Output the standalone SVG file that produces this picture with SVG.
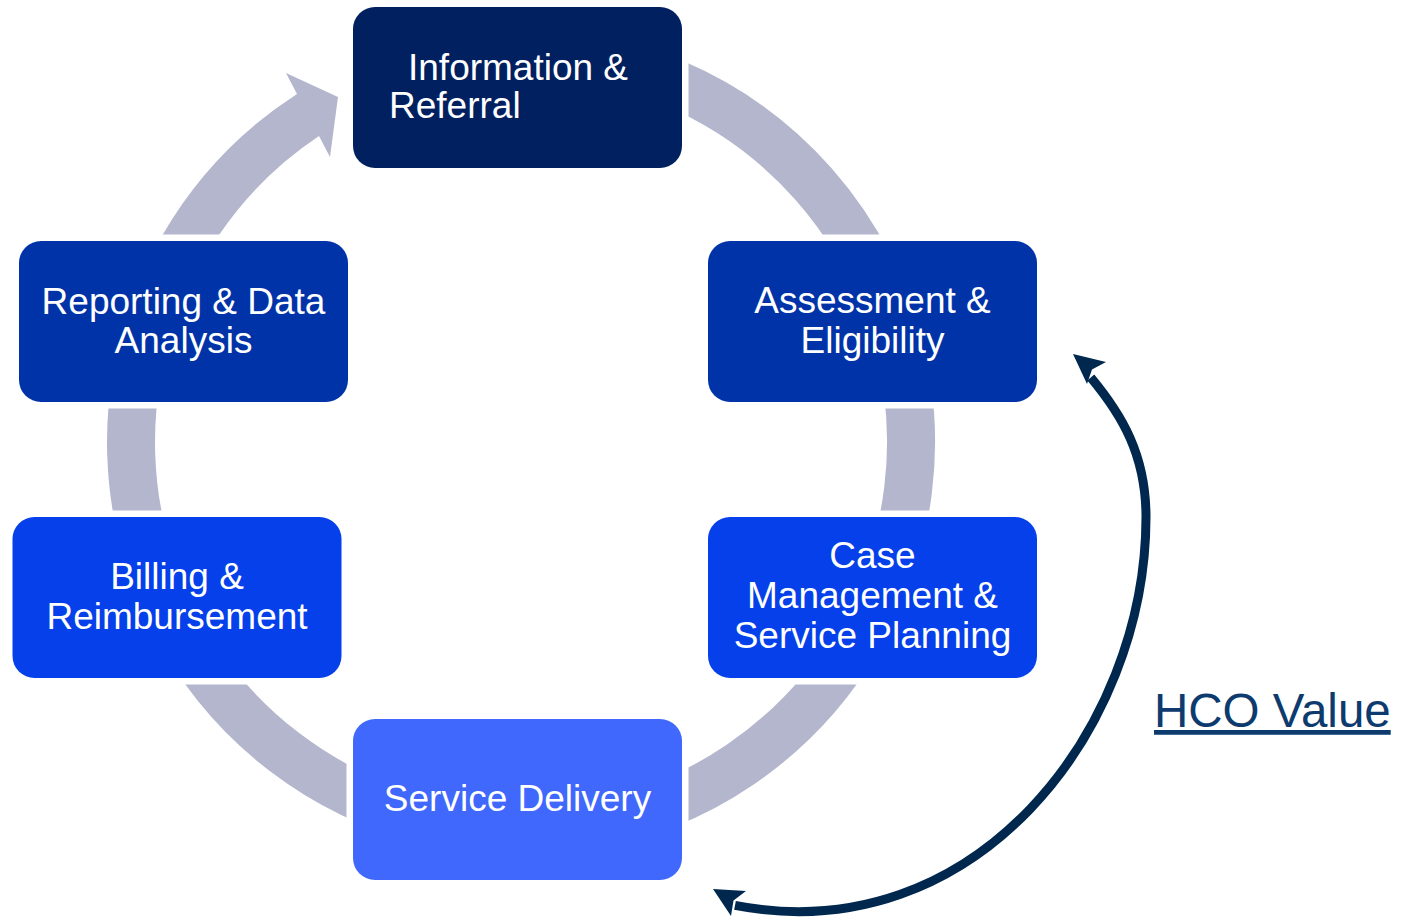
<svg xmlns="http://www.w3.org/2000/svg" width="1404" height="920" viewBox="0 0 1404 920">
  <style>
    .box text { font-family: "Liberation Sans", Arial, sans-serif; font-size: 37px; fill: #ffffff; }
    .c { text-anchor: middle; }
    .ring { fill: none; stroke: #B3B6CC; stroke-width: 48; }
    .ringfill { fill: #B3B6CC; }
    .curve { fill: none; stroke: #00284F; stroke-width: 9; }
    .head { fill: #00284F; }
    .hco { font-family: "Liberation Sans", Arial, sans-serif; font-size: 47.5px; fill: #0D3B6E; text-decoration: underline; }
  </style>
  <defs>
    <mask id="gaps" maskUnits="userSpaceOnUse" x="0" y="0" width="1404" height="920">
      <rect x="0" y="0" width="1404" height="920" fill="#fff"/>
      <rect x="346.5" y="0.5" width="342" height="174" fill="#000"/>
      <rect x="701.5" y="234.5" width="342" height="174" fill="#000"/>
      <rect x="701.5" y="510.5" width="342" height="174" fill="#000"/>
      <rect x="346.5" y="712.5" width="342" height="174" fill="#000"/>
      <rect x="6" y="510.5" width="342" height="174" fill="#000"/>
      <rect x="12.5" y="234.5" width="342" height="174" fill="#000"/>
    </mask>
  </defs>

  <g id="connectors">
    <g mask="url(#gaps)">
      <path class="ring" d="M 521,52 A 390 390 0 1 1 157.8,300"/>
      <path class="ringfill" d="M 162.5,235 A 414 414 0 0 1 297,94 L 286,73 L 338,97 L 330,157 L 319,136 A 366 366 0 0 0 219,235 Z"/>
    </g>
    <path class="curve" d="M 1090.8,377.5 C 1122,415 1146,455 1146,517 C 1146,730 975,952 735,905.4"/>
    <polygon class="head" points="1073,354 1106,362 1092,369.5 1087,384"/>
    <polygon class="head" points="713,889 746,891 733.5,900.5 731,916"/>
  </g>

  <g id="node-info" class="box">
    <rect x="353" y="7" width="329" height="161" rx="22" fill="#002060"/>
    <text x="408" y="80">Information &amp;</text>
    <text x="389" y="118">Referral</text>
  </g>
  <g id="node-assessment" class="box">
    <rect x="708" y="241" width="329" height="161" rx="22" fill="#0033A8"/>
    <text class="c" x="872.5" y="313">Assessment &amp;</text>
    <text class="c" x="872.5" y="353">Eligibility</text>
  </g>
  <g id="node-case" class="box">
    <rect x="708" y="517" width="329" height="161" rx="22" fill="#0540EA"/>
    <text class="c" x="872.5" y="568">Case</text>
    <text class="c" x="872.5" y="608">Management &amp;</text>
    <text class="c" x="872.5" y="648">Service Planning</text>
  </g>
  <g id="node-service" class="box">
    <rect x="353" y="719" width="329" height="161" rx="22" fill="#4068FD"/>
    <text class="c" x="517.5" y="811">Service Delivery</text>
  </g>
  <g id="node-billing" class="box">
    <rect x="12.5" y="517" width="329" height="161" rx="22" fill="#0540EA"/>
    <text class="c" x="177" y="589">Billing &amp;</text>
    <text class="c" x="177" y="629">Reimbursement</text>
  </g>
  <g id="node-reporting" class="box">
    <rect x="19" y="241" width="329" height="161" rx="22" fill="#0033A8"/>
    <text class="c" x="183.5" y="314">Reporting &amp; Data</text>
    <text class="c" x="183.5" y="353">Analysis</text>
  </g>

  <g id="label-hco">
    <text class="hco" x="1154" y="727">HCO Value</text>
  </g>
</svg>
